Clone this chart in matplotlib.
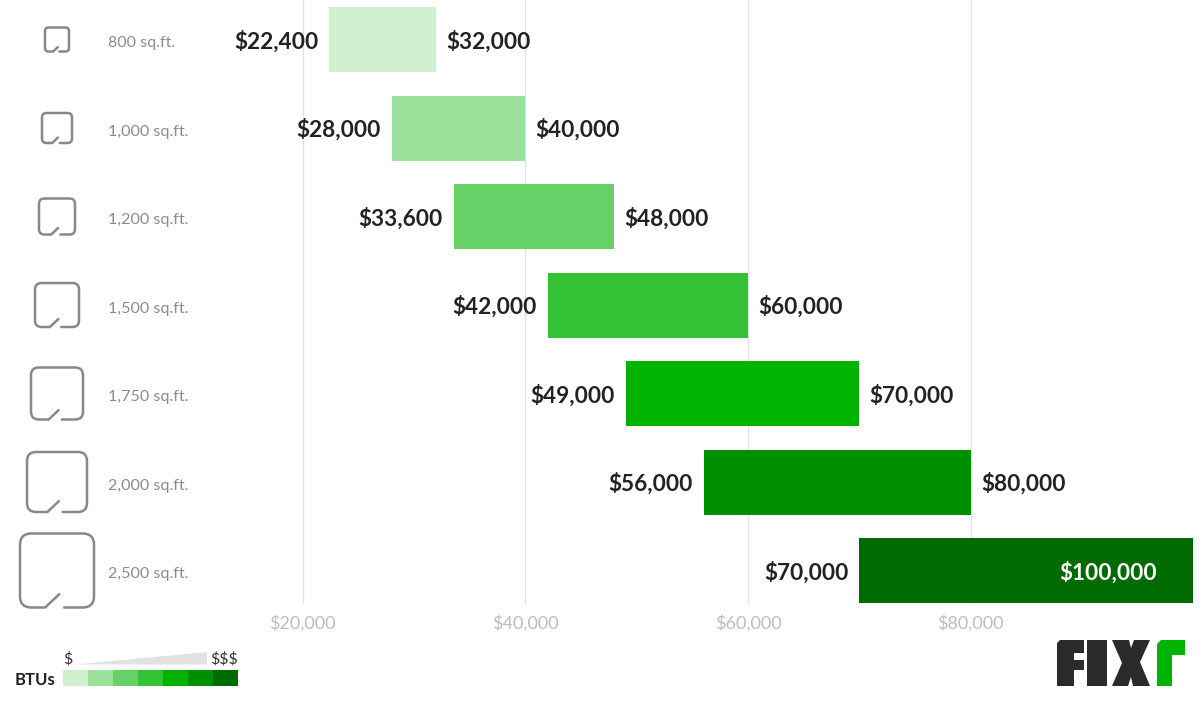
import matplotlib
matplotlib.use('Agg')
import matplotlib.pyplot as plt
from matplotlib.path import Path
from matplotlib.patches import PathPatch, Polygon, Rectangle
from matplotlib.transforms import blended_transform_factory

plt.rcParams['font.family'] = ['Lato', 'Open Sans', 'DejaVu Sans']

# data
areas = ['800 sq.ft.', '1,000 sq.ft.', '1,200 sq.ft.', '1,500 sq.ft.', '1,750 sq.ft.', '2,000 sq.ft.', '2,500 sq.ft.']
low = [22400, 28000, 33600, 42000, 49000, 56000, 70000]
high = [32000, 40000, 48000, 60000, 70000, 80000, 100000]
colors = ['#cfefcf', '#9be09b', '#66d166', '#33c233', '#00b300', '#008f00', '#006b00']
xticks = [20000, 40000, 60000, 80000]
icon_sizes = [24, 30, 36, 44, 52, 60, 74]


def money(v):
    return '${:,}'.format(v)


W, H = 1200, 701
X0, XS = 80, 0.011134  # pixel of $0, pixels per dollar
Y0, YS = 39.5, 88.5    # pixel of first row, pixels per row
fig = plt.figure(figsize=(12, 7.01), dpi=100)

# overlay in pixel coords for icons, legend, logo
px = fig.add_axes([0, 0, 1, 1])
px.set_xlim(0, W)
px.set_ylim(H, 0)
px.axis('off')

bottom = 604
ax = fig.add_axes([0, 1 - bottom / H, 1, bottom / H])
ax.patch.set_alpha(0)
ax.set_xlim(-X0 / XS, (W - X0) / XS)
ax.set_ylim((bottom - Y0) / YS, -Y0 / YS)
for s in ax.spines.values():
    s.set_visible(False)
ax.set_yticks([])
ax.set_xticks(xticks)
ax.set_xticklabels([money(v) for v in xticks], fontsize=13, color='#bdbdbd')
ax.tick_params(axis='x', length=0, pad=8)
ax.grid(axis='x', color='#e2e2e2', lw=1)
ax.set_axisbelow(True)

ypos = list(range(len(areas)))
ax.barh(ypos, [h - l for l, h in zip(low, high)], left=low, height=65 / YS, color=colors)

label_tf = blended_transform_factory(px.transData, ax.transData)
for i, area in enumerate(areas):
    ax.annotate(money(low[i]), (low[i], i), xytext=(-8, 0), textcoords='offset points',
                ha='right', va='center_baseline', fontsize=16.3, fontweight='bold', color='#222222')
    if high[i] == 100000:
        ax.annotate(money(high[i]), (high[i], i), xytext=(-26, 0), textcoords='offset points',
                    ha='right', va='center_baseline', fontsize=16.3, fontweight='bold', color='white')
    else:
        ax.annotate(money(high[i]), (high[i], i), xytext=(7.3, 0), textcoords='offset points',
                    ha='left', va='center_baseline', fontsize=16.3, fontweight='bold', color='#222222')
    ax.annotate(area, (108, i), xycoords=label_tf, xytext=(0, -1.5), textcoords='offset points',
                ha='left', va='center_baseline', fontsize=11.6, color='#8c8c8c')


def draw_icon(cx, cy, size):
    r = 0.15
    pts = [(0.595, 1), (1 - r, 1), (1, 1), (1, 1 - r), (1, r), (1, 0), (1 - r, 0),
           (r, 0), (0, 0), (0, r), (0, 1 - r), (0, 1), (r, 1), (0.34, 1), (0.53, 0.82)]
    codes = [Path.MOVETO, Path.LINETO, Path.CURVE3, Path.CURVE3, Path.LINETO, Path.CURVE3, Path.CURVE3,
             Path.LINETO, Path.CURVE3, Path.CURVE3, Path.LINETO, Path.CURVE3, Path.CURVE3, Path.LINETO, Path.LINETO]
    verts = [(cx - size / 2 + x * size, cy - size / 2 + y * size) for x, y in pts]
    px.add_patch(PathPatch(Path(verts, codes), fc='none', ec='#888888', lw=1.8, capstyle='round'))


for i, size in enumerate(icon_sizes):
    draw_icon(57, Y0 + YS * i, size)

# legend
for i, c in enumerate(colors):
    px.add_patch(Rectangle((63 + 25 * i, 670), 25, 16, fc=c, ec='none'))
px.add_patch(Polygon([(75, 664.5), (207, 652), (207, 664.5)], fc='#e2e2e2', ec='none'))
px.text(68, 659, '$', ha='center', va='center', fontsize=11.5, color='#333333')
px.text(224, 659, '$$$', ha='center', va='center', fontsize=11.5, color='#333333')
px.text(35, 680, 'BTUs', ha='center', va='center', fontsize=12, fontweight='bold', color='#222222')

# logo
dark = '#2b2b2b'
px.add_patch(Polygon([(1060, 640), (1084, 640), (1084, 653), (1074, 653), (1074, 660), (1084, 660),
                      (1084, 670), (1074, 670), (1074, 686), (1057, 686), (1057, 643)], fc=dark, ec='none'))
px.add_patch(Rectangle((1087, 640), 20, 46, fc=dark, ec='none'))
px.add_patch(Polygon([(1112, 640), (1129, 640), (1131, 648), (1134, 640), (1150, 640), (1140, 662),
                      (1150, 686), (1133, 686), (1131, 677), (1128, 686), (1112, 686), (1122, 663)], fc=dark, ec='none'))
px.add_patch(Polygon([(1161, 640), (1185, 640), (1185, 655), (1172, 655), (1172, 686), (1157, 686), (1157, 644)],
                     fc='#00b300', ec='none'))

fig.savefig('out.png', dpi=100)
